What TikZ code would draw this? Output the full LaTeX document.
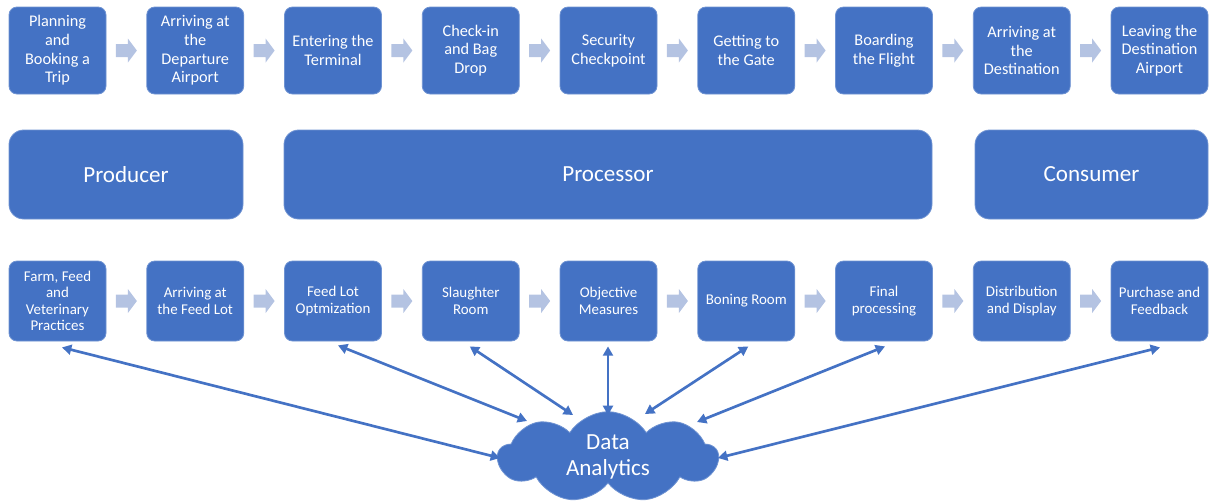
\documentclass[tikz,border=0pt]{standalone}
\usepackage{fontspec}
\setmainfont{Carlito}
\usetikzlibrary{shapes.symbols,arrows.meta,calc}
\definecolor{boxblue}{HTML}{4472C4}
\definecolor{chevblue}{HTML}{B4C3E2}
\definecolor{edgeblue}{HTML}{6F93D2}

\begin{document}
\begin{tikzpicture}[x=0.75pt,y=-0.75pt,
  stage/.style={rectangle, rounded corners=6pt, fill=boxblue, draw=edgeblue,
    line width=0.6pt, text=white, align=center, minimum width=72.75pt, inner sep=1pt},
  toprow/.style={stage, minimum height=65.25pt, font=\fontsize{12.2}{14}\selectfont},
  lowrow/.style={stage, minimum height=60pt, font=\fontsize{11.2}{12.4}\selectfont},
  phase/.style={rectangle, rounded corners=11pt, fill=boxblue, draw=edgeblue,
    line width=0.6pt, text=white, minimum height=66.75pt, font=\fontsize{17.3}{20}\selectfont},
  link/.style={boxblue, line width=2pt,
    {Triangle[length=7pt,width=7.5pt]}-{Triangle[length=7pt,width=7.5pt]}},
]
\useasboundingbox (0,0) rectangle (1210,501);

% travel steps
\node[toprow] (t1) at (57.5,50.5)    {Planning\\and\\Booking a\\Trip};
\node[toprow] (t2) at (195.25,50.5)  {Arriving at\\the\\Departure\\Airport};
\node[toprow] (t3) at (333,50.5)     {Entering the\\Terminal};
\node[toprow] (t4) at (470.75,50.5)  {Check-in\\and Bag\\Drop};
\node[toprow] (t5) at (608.5,50.5)   {Security\\Checkpoint};
\node[toprow] (t6) at (746.25,50.5)  {Getting to\\the Gate};
\node[toprow] (t7) at (884,50.5)     {Boarding\\the Flight};
\node[toprow] (t8) at (1021.75,50.5) {Arriving at\\the\\Destination};
\node[toprow] (t9) at (1159.5,50.5)  {Leaving the\\Destination\\Airport};

% supply chain phases
\node[phase, minimum width=175.5pt] (pr) at (126,174.5)   {Producer};
\node[phase, minimum width=486pt]   (pc) at (608,174.5)   {Processor};
\node[phase, minimum width=174.75pt] (cs) at (1091.5,174.5) {Consumer};

% beef chain steps
\node[lowrow] (b1) at (57.5,301)    {Farm, Feed\\and\\Veterinary\\Practices};
\node[lowrow] (b2) at (195.25,301)  {Arriving at\\the Feed Lot};
\node[lowrow] (b3) at (333,301)     {Feed Lot\\Optmization};
\node[lowrow] (b4) at (470.75,301)  {Slaughter\\Room};
\node[lowrow] (b5) at (608.5,301)   {Objective\\Measures};
\node[lowrow] (b6) at (746.25,301)  {Boning Room};
\node[lowrow] (b7) at (884,301)     {Final\\processing};
\node[lowrow] (b8) at (1021.75,301) {Distribution\\and Display};
\node[lowrow] (b9) at (1159.5,301)  {Purchase and\\Feedback};

% block arrows between consecutive steps
\foreach \r in {t,b}{
  \foreach \i [evaluate=\i as \j using int(\i+1)] in {1,...,8}{
    \path ($(\r\i.east)!0.5!(\r\j.west)$) coordinate (m);
    \fill[chevblue, shift={(m)}] (-10.5,-6.5) -- (1.5,-6.5) -- (1.5,-12)
      -- (10.5,0) -- (1.5,12) -- (1.5,6.5) -- (-10.5,6.5) -- cycle;
  }
}

% analytics hub
\node[cloud, cloud puffs=9, cloud puff arc=115, aspect=2.4, fill=boxblue,
  draw=edgeblue, line width=0.6pt, text=white, align=center,
  minimum width=165pt, minimum height=68pt, inner sep=0pt,
  font=\fontsize{17.3}{19.5}\selectfont] (cl) at (608,457) {Data\\Analytics};

% two-way data links
\draw[link] ([shift={(4.5,6)}]b1.south) -- ([shift={(-108,1)}]cl.center);
\draw[link] ([shift={(5,4)}]b3.south)   -- ([shift={(-81,-36)}]cl.center);
\draw[link] ([shift={(-1,5)}]b4.south)  -- ([shift={(-35,-42)}]cl.center);
\draw[link] ([shift={(-0.5,5)}]b5.south) -- ([shift={(0,-42)}]cl.center);
\draw[link] ([shift={(2,5)}]b6.south)   -- ([shift={(37,-43)}]cl.center);
\draw[link] ([shift={(1,5)}]b7.south)   -- ([shift={(89,-35)}]cl.center);
\draw[link] ([shift={(0.5,6)}]b9.south) -- ([shift={(110,1)}]cl.center);
\end{tikzpicture}
\end{document}
